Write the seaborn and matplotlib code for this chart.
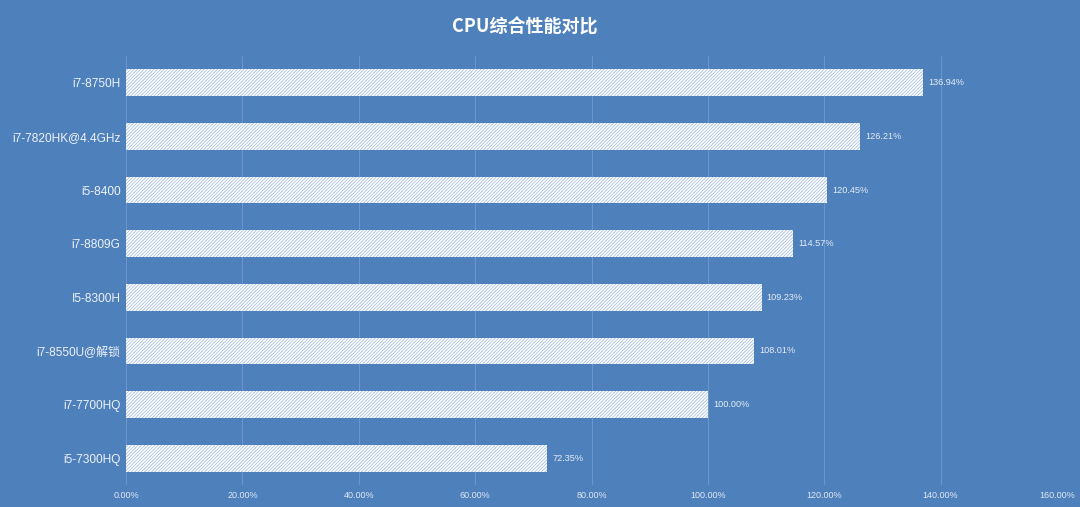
import matplotlib
matplotlib.use("Agg")
import matplotlib.pyplot as plt
import seaborn as sns
import pandas as pd
from matplotlib.ticker import FuncFormatter

cpus = ["i7-8750H", "i7-7820HK@4.4GHz", "i5-8400", "i7-8809G", "I5-8300H",
        "i7-8550U@解锁", "i7-7700HQ", "i5-7300HQ"]
scores = [136.94, 126.21, 120.45, 114.57, 109.23, 108.01, 100.00, 72.35]
xticks = [0, 20, 40, 60, 80, 100, 120, 140, 160]
title = "CPU综合性能对比"

df = pd.DataFrame({"cpu": cpus, "score": scores})

BG = "#4e80bb"
sns.set_theme(style="white")
plt.rcParams['font.family'] = ['Liberation Sans', 'Noto Sans CJK SC', 'DejaVu Sans']
plt.rcParams['hatch.linewidth'] = 0.55

fig = plt.figure(figsize=(10.8, 5.07), dpi=100, facecolor=BG)
ax = fig.add_axes([126/1080, 1 - 485/507, (1057 - 126)/1080, (485 - 56)/507])
ax.set_facecolor(BG)

sns.barplot(data=df, x="score", y="cpu", orient="h", ax=ax, width=0.5,
            color="white", edgecolor="#a2bde3", linewidth=0, hatch="//////////",
            saturation=1)
for p in ax.patches:
    p.set_facecolor("white")
    p.set_edgecolor("#a2bde3")
    p.set_linewidth(0)

ax.set_xlim(0, 160)
ax.set_xticks(xticks)
ax.xaxis.set_major_formatter(FuncFormatter(lambda v, _: f"{v:.2f}%"))
ax.grid(axis="x", color="#7599cc", linewidth=0.6)
ax.set_axisbelow(True)
for s in ax.spines.values():
    s.set_visible(False)
ax.tick_params(axis="x", colors="#dfe8f4", labelsize=6.5, length=0, pad=4.5)
ax.tick_params(axis="y", colors="#edf2f9", labelsize=8.6, length=0, pad=4)
ax.set_xlabel("")
ax.set_ylabel("")

for p, v in zip(ax.patches, scores):
    ax.text(p.get_width() + 0.9, p.get_y() + p.get_height() / 2, f"{v:.2f}%",
            va="center", ha="left", fontsize=6.6, color="#e4ecf6")

fig.text(525/1080, 1 - 27/507, title, ha="center", va="center", fontsize=13,
         fontweight="bold", color="white",
         family=['Noto Sans CJK SC', 'DejaVu Sans'])

fig.savefig("out.png", dpi=100, facecolor=BG)
